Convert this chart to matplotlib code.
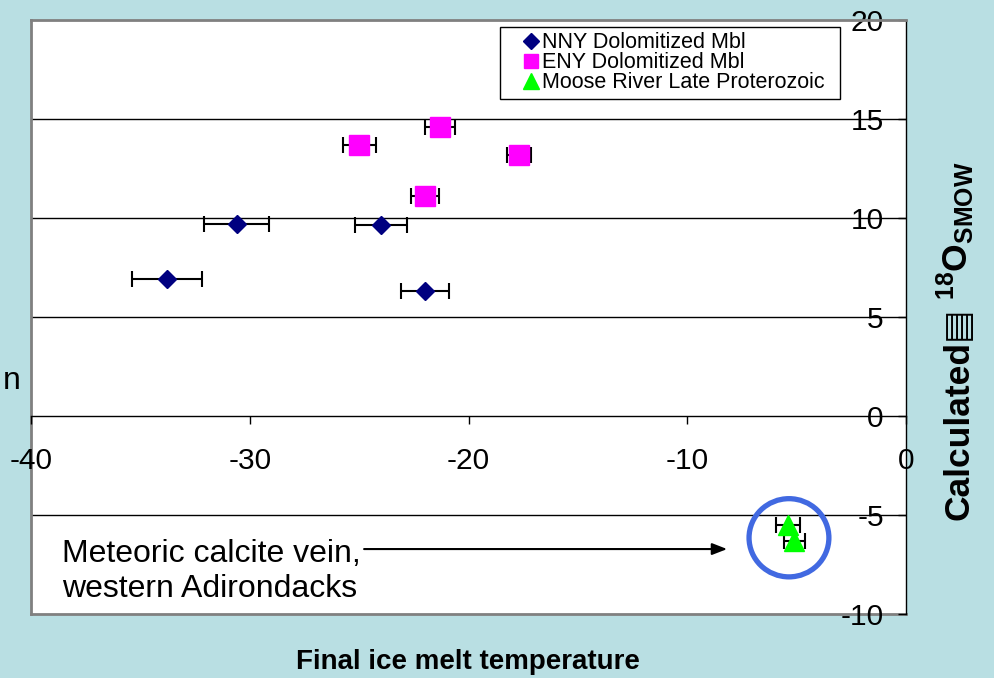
import numpy as np
import matplotlib
matplotlib.use("Agg")
import matplotlib.pyplot as plt
from matplotlib.patches import Ellipse
from matplotlib.lines import Line2D

plt.rcParams['font.family'] = ['Liberation Sans', 'DejaVu Sans']
plt.rcParams['mathtext.fontset'] = 'custom'
plt.rcParams['mathtext.rm'] = 'Liberation Sans'
plt.rcParams['mathtext.bf'] = 'Liberation Sans:bold'
plt.rcParams['axes.unicode_minus'] = False

# NNY Dolomitized marble
nny_x = [-33.8, -30.6, -24.0, -22.0]
nny_y = [6.9, 9.7, 9.65, 6.3]
nny_err = [1.6, 1.5, 1.2, 1.1]

# ENY Dolomitized marble
eny_x = [-25.0, -21.3, -17.7, -22.0]
eny_y = [13.7, 14.6, 13.2, 11.1]
eny_err = [0.75, 0.7, 0.55, 0.65]

# Moose River late Proterozoic
moose_x = [-5.4, -5.1]
moose_y = [-5.5, -6.3]
moose_err = [0.55, 0.5]

x_ticks = [-40, -30, -20, -10, 0]
y_ticks = [-10, -5, 0, 5, 10, 15, 20]

BG = '#B9DFE3'
GRAY = '#808080'
W, H = 994, 678

fig = plt.figure(figsize=(9.94, 6.78), dpi=100, facecolor=BG)
ax = fig.add_axes([31 / W, 1 - 614 / H, (906 - 31) / W, (614 - 20) / H])
ax.set_facecolor('white')
ax.set_xlim(-40, 0)
ax.set_ylim(-10, 20)

# horizontal grid lines
for yv in [5, 10, 15, -5]:
    ax.axhline(yv, color='black', lw=1, zorder=1)
ax.axhline(-10, color=GRAY, lw=2, zorder=1, clip_on=False)
ax.axvline(-40, color=GRAY, lw=2, zorder=1, clip_on=False)

# axes crossing at the origin
ax.spines['left'].set_position(('data', 0))
ax.spines['bottom'].set_position(('data', 0))
ax.spines['right'].set_visible(False)
ax.spines['top'].set_color(GRAY)
ax.spines['top'].set_linewidth(2)
for s in ['left', 'bottom']:
    ax.spines[s].set_color('black')
    ax.spines[s].set_linewidth(1)

ax.set_xticks(x_ticks)
ax.set_yticks(y_ticks)
ax.tick_params(axis='x', direction='out', length=6, width=1, pad=16.5, labelsize=21.5)
ax.tick_params(axis='y', direction='out', length=6, width=1, pad=10, labelsize=21.5)

err_kw = dict(fmt='none', ecolor='black', elinewidth=1.5, capsize=5.5, capthick=1.5, zorder=3)
ax.errorbar(nny_x, nny_y, xerr=nny_err, **err_kw)
ax.errorbar(eny_x, eny_y, xerr=eny_err, **err_kw)
ax.errorbar(moose_x, moose_y, xerr=moose_err, **err_kw)

ax.plot(nny_x, nny_y, 'D', color='#000080', ms=9.5, ls='none', zorder=4)
ax.plot(eny_x, eny_y, 's', color='#FF00FF', ms=14.5, ls='none', zorder=4)
ax.plot(moose_x, moose_y, '^', color='#00FF00', ms=14, ls='none', zorder=4)

# blue ring around the meteoric vein samples
ax.add_patch(Ellipse((np.mean(moose_x) - 0.1, np.mean(moose_y) - 0.25), 3.65, 3.95,
                     fill=False, edgecolor='#4169E1', lw=3.8, zorder=5))

ax.annotate('', xy=(-8.05, -6.72), xytext=(-24.9, -6.72),
            arrowprops=dict(arrowstyle='-|>,head_length=0.9,head_width=0.35',
                            color='black', lw=1.5))
ax.text(-38.6, -7.85, 'Meteoric calcite vein,\nwestern Adirondacks',
        fontsize=23, ha='left', va='center', linespacing=1.2)

handles = [
    Line2D([], [], marker='D', color='#000080', ls='none', ms=8.5),
    Line2D([], [], marker='s', color='#FF00FF', ls='none', ms=10),
    Line2D([], [], marker='^', color='#00FF00', ls='none', ms=12),
]
labels = ['NNY Dolomitized Mbl', 'ENY Dolomitized Mbl', 'Moose River Late Proterozoic']
leg = ax.legend(handles, labels, loc='upper left', mode='expand',
                bbox_to_anchor=(500 / W, 1 - 97 / H, 340 / W, 70 / H),
                bbox_transform=fig.transFigure, borderaxespad=0, fontsize=15.5,
                handlelength=2.4, handletextpad=-0.7, labelspacing=-0.05, borderpad=0.25,
                fancybox=False, framealpha=1, edgecolor='black')
leg.get_frame().set_linewidth(1)

fig.text(0.471, 0.024, 'Final ice melt temperature', fontsize=20, fontweight='bold',
         ha='center', va='center')

# rotated y label in two parts: plain text with the box glyph, then 18O_SMOW above it
lab1 = fig.text(968 / W, 1 - 520 / H, 'Calculated\u25a4', fontsize=25.5, fontweight='bold',
                rotation=90, rotation_mode='anchor', ha='left', va='baseline')
fig.canvas.draw()
top_px = lab1.get_window_extent().y1
fig.text(968 / W, (top_px + 8) / H, '$\\mathbf{^{18}O_{SMOW}}$', fontsize=25.5,
         rotation=90, rotation_mode='anchor', ha='left', va='baseline')

fig.text(21 / W, 1 - 389 / H, 'n', fontsize=23, ha='right', va='baseline')

fig.savefig('out.png', dpi=100, facecolor=BG)
